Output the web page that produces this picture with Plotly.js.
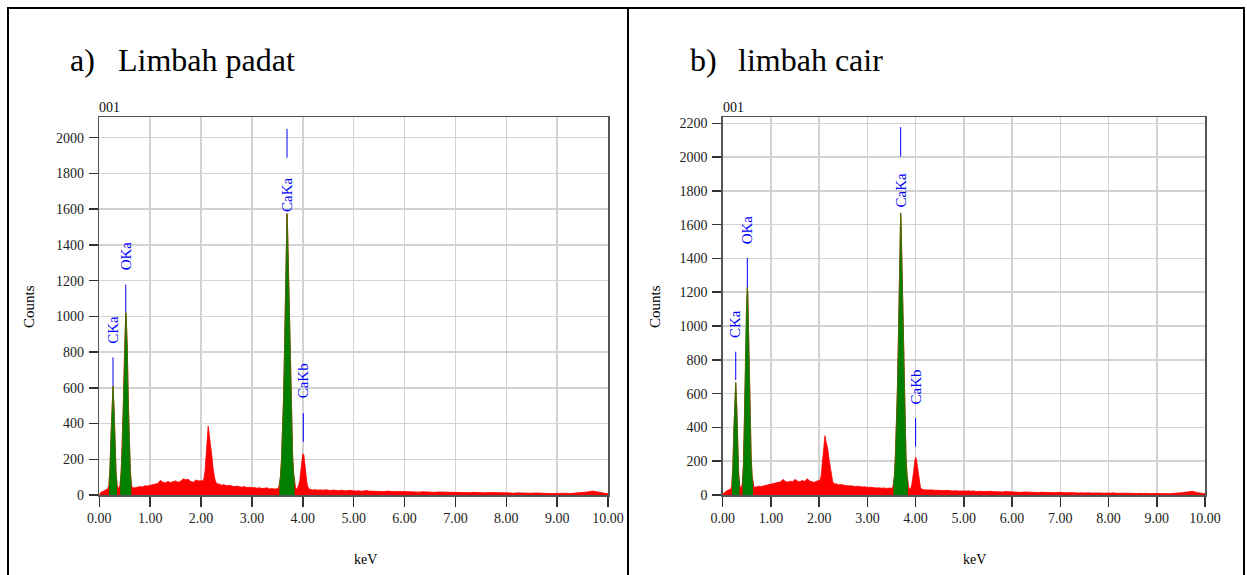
<!DOCTYPE html>
<html><head><meta charset="utf-8">
<script src="https://cdn.plot.ly/plotly-3.0.1.min.js"></script>
<style>html,body{margin:0;padding:0;background:#fff;}#chart{width:1247px;height:575px;}</style>
</head><body><div id="chart"></div>
<script>
const W = 1247, H = 575;
const SERIF = 'Liberation Serif, Times New Roman, Times, serif';

// channel step of the background spectra (keV)
const STEP = 0.05;

// a) Limbah padat — counts at 0.00, 0.05, ... 10.00 keV
const countsA = [
  6, 18, 24, 30, 34, 36, 38, 40, 42, 44,
  46, 44, 42, 38, 40, 44, 47, 45, 52, 50,
  55, 57, 61, 64, 82, 72, 68, 76, 70, 74,
  79, 71, 77, 90, 86, 88, 75, 72, 84, 79,
  82, 90, 200, 350, 250, 120, 70, 62, 55, 58,
  52, 54, 49, 47, 50, 46, 44, 47, 42, 44,
  40, 42, 38, 41, 36, 38, 40, 34, 36, 33,
  37, 100, 320, 1100, 1500, 640, 220, 65, 40, 120,
  230, 175, 70, 31, 28, 30, 27, 29, 26, 30,
  27, 25, 28, 26, 24, 27, 25, 23, 26, 24,
  25, 22, 24, 21, 23, 25, 22, 21, 23, 20,
  22, 21, 19, 22, 20, 21, 19, 20, 18, 20,
  19, 18, 20, 17, 19, 18, 16, 18, 17, 19,
  16, 17, 15, 17, 16, 15, 17, 14, 16, 15,
  15, 14, 16, 13, 15, 14, 13, 15, 14, 12,
  14, 13, 12, 14, 13, 12, 14, 11, 13, 12,
  13, 11, 12, 10, 12, 11, 10, 12, 10, 11,
  10, 11, 9, 11, 10, 9, 10, 9, 10, 8,
  9, 10, 8, 9, 10, 8, 9, 10, 9, 11,
  12, 14, 17, 20, 22, 19, 16, 12, 10, 9,
  8
];
// b) limbah cair
const countsB = [
  6, 20, 28, 33, 36, 38, 42, 43, 45, 47,
  50, 48, 46, 44, 48, 52, 50, 54, 56, 60,
  62, 66, 70, 74, 78, 92, 80, 76, 82, 78,
  93, 82, 78, 86, 80, 96, 84, 78, 75, 82,
  85, 140, 310, 310, 220, 130, 70, 66, 60, 62,
  58, 56, 54, 55, 52, 50, 52, 48, 47, 49,
  45, 46, 43, 44, 41, 43, 40, 42, 39, 41,
  40, 110, 390, 1200, 1590, 680, 230, 65, 42, 140,
  225, 160, 65, 33, 30, 31, 29, 30, 28, 29,
  28, 26, 27, 25, 27, 24, 26, 25, 23, 25,
  24, 23, 25, 22, 24, 21, 23, 22, 20, 22,
  21, 22, 20, 19, 21, 20, 18, 20, 19, 18,
  19, 17, 19, 18, 16, 18, 17, 16, 18, 16,
  17, 15, 16, 15, 17, 14, 16, 15, 14, 16,
  14, 15, 13, 14, 15, 13, 14, 12, 14, 13,
  12, 14, 13, 12, 13, 11, 13, 12, 11, 13,
  12, 11, 13, 10, 11, 12, 10, 11, 10, 12,
  10, 9, 11, 10, 9, 11, 10, 9, 10, 9,
  10, 9, 8, 10, 9, 8, 10, 9, 11, 12,
  13, 15, 18, 21, 19, 22, 17, 13, 11, 9,
  8
];

// fine-channel peak regions (keV) and counts
const cE   = [0.17, 0.19, 0.21, 0.23, 0.25, 0.27, 0.29, 0.31, 0.33, 0.35, 0.37];
const cA   = [36, 60, 150, 330, 530, 610, 480, 280, 120, 55, 40];
const cB   = [36, 62, 165, 370, 580, 665, 530, 300, 130, 60, 43];

const oE   = [0.39, 0.41, 0.43, 0.45, 0.47, 0.49, 0.51, 0.52, 0.53, 0.55, 0.57, 0.59, 0.61, 0.63, 0.65];
const oA   = [40, 62, 130, 260, 480, 740, 950, 1020, 990, 820, 520, 280, 130, 62, 40];
const oB   = [45, 80, 180, 450, 850, 1080, 1230, 1190, 1050, 750, 420, 220, 110, 62, 46];

const pE   = [2.00, 2.02, 2.04, 2.06, 2.08, 2.10, 2.12, 2.14, 2.16, 2.18, 2.20, 2.22, 2.24, 2.26, 2.28, 2.30, 2.32];
const pA   = [82, 80, 78, 95, 140, 220, 310, 385, 340, 300, 250, 200, 140, 100, 78, 70, 62];
const pB   = [85, 88, 110, 170, 240, 310, 351, 320, 300, 270, 220, 180, 150, 110, 80, 70, 66];

const caaE = [3.52, 3.54, 3.56, 3.58, 3.60, 3.62, 3.64, 3.66, 3.68, 3.69, 3.70, 3.72, 3.74, 3.76, 3.78, 3.80, 3.82, 3.84, 3.86];
const caaA = [37, 60, 100, 190, 320, 520, 800, 1100, 1480, 1575, 1500, 1260, 950, 640, 390, 220, 120, 65, 40];
const caaB = [40, 65, 110, 230, 390, 600, 880, 1200, 1570, 1668, 1590, 1330, 1000, 680, 410, 230, 125, 65, 40];

const cabE = [3.88, 3.90, 3.92, 3.94, 3.96, 3.98, 4.00, 4.02, 4.04, 4.06, 4.08, 4.10, 4.12, 4.14];
const cabA = [32, 40, 55, 80, 120, 180, 230, 225, 175, 110, 70, 45, 35, 31];
const cabB = [36, 42, 60, 90, 140, 195, 225, 205, 160, 105, 65, 45, 36, 33];

// green (identified) windows: C, O, CaKa
const greenLo = [0.19, 0.41, 3.54];
const greenHi = [0.35, 0.63, 3.84];

// peak labels
const labelText = ['CKa', 'OKa', 'CaKa', 'CaKb'];
const labelE_A  = [0.27, 0.52, 3.69, 4.01];
const labelY_A  = [925, 1340, 1680, 638];
const lineTopA  = [770, 1178, 2050, 458];
const lineBotA  = [610, 1020, 1888, 298];
const labelE_B  = [0.27, 0.51, 3.69, 4.00];
const labelY_B  = [1010, 1568, 1800, 640];
const lineTopB  = [848, 1403, 2177, 456];
const lineBotB  = [680, 1230, 2003, 286];

const xTickVals = [0, 1, 2, 3, 4, 5, 6, 7, 8, 9, 10];

function spectrum(bg, peaks) {
  const pts = [];
  bg.forEach((n, i) => {
    const e = +(i * STEP).toFixed(3);
    const inside = peaks.some(p => e >= p[0][0] - 1e-6 && e <= p[0][p[0].length - 1] + 1e-6);
    if (!inside) pts.push([e, n]);
  });
  peaks.forEach(p => p[0].forEach((e, i) => pts.push([e, p[1][i]])));
  pts.sort((a, b) => a[0] - b[0]);
  return { x: pts.map(p => p[0]), y: pts.map(p => p[1]) };
}
function win(E, N, lo, hi) {
  const x = [], y = [];
  E.forEach((e, i) => { if (e >= lo - 1e-6 && e <= hi + 1e-6) { x.push(e); y.push(N[i]); } });
  return { x, y };
}

function panelTraces(bg, c, o, p, caa, cab, lE, lTop, lBot, xa, ya) {
  const traces = [];
  const s = spectrum(bg, [[cE, c], [oE, o], [pE, p], [caaE, caa], [cabE, cab]]);
  traces.push({ x: s.x, y: s.y, type: 'scatter', mode: 'lines', fill: 'tozeroy',
    fillcolor: '#ff0000', line: { color: '#ff0000', width: 0.8 }, xaxis: xa, yaxis: ya, hoverinfo: 'skip' });
  const greens = [[cE, c], [oE, o], [caaE, caa]];
  greens.forEach((g, k) => {
    const w = win(g[0], g[1], greenLo[k], greenHi[k]);
    traces.push({ x: w.x, y: w.y, type: 'scatter', mode: 'lines', fill: 'tozeroy',
      fillcolor: '#008000', line: { color: '#3d7200', width: 0.9 }, xaxis: xa, yaxis: ya, hoverinfo: 'skip' });
  });
  const mx = [], my = [];
  lE.forEach((e, i) => { mx.push(e, e, null); my.push(lBot[i], lTop[i], null); });
  traces.push({ x: mx, y: my, type: 'scatter', mode: 'lines', line: { color: '#0000ff', width: 1 },
    xaxis: xa, yaxis: ya, hoverinfo: 'skip' });
  return traces;
}

const data = [].concat(
  panelTraces(countsA, cA, oA, pA, caaA, cabA, labelE_A, lineTopA, lineBotA, 'x', 'y'),
  panelTraces(countsB, cB, oB, pB, caaB, cabB, labelE_B, lineTopB, lineBotB, 'x2', 'y2')
);

const px = v => v / W;
const py = v => 1 - v / H;

const axBase = {
  showline: true, linecolor: '#555', linewidth: 1.5, mirror: true,
  showgrid: true, gridcolor: '#d2d2d2', gridwidth: 1.5, zeroline: false,
  ticks: 'outside', tickcolor: '#333', tickwidth: 1.5,
  tickfont: { family: SERIF, size: 14, color: '#222' }, fixedrange: true
};
const xAx = Object.assign({}, axBase, { range: [0, 10], tickvals: xTickVals, tickformat: '.2f', ticklen: 10 });
const yAx = Object.assign({}, axBase, { tick0: 0, dtick: 200, ticklen: 9, ticklabelstandoff: 2 });

const annotations = [];
function labelAnn(lE, lY, xr, yr) {
  lE.forEach((e, i) => annotations.push({
    x: e, y: lY[i], xref: xr, yref: yr, text: labelText[i], showarrow: false,
    textangle: -90, xanchor: 'center', yanchor: 'middle',
    font: { family: SERIF, size: 15, color: '#0000ff' }
  }));
}
labelAnn(labelE_A, labelY_A, 'x', 'y');
labelAnn(labelE_B, labelY_B, 'x2', 'y2');

function txt(x, y, text, size, opts) {
  annotations.push(Object.assign({ x: px(x), y: py(y), xref: 'paper', yref: 'paper', text: text,
    showarrow: false, xanchor: 'left', yanchor: 'middle',
    font: { family: SERIF, size: size, color: '#000' } }, opts || {}));
}
txt(68, 60, 'a)', 32);
txt(116, 60, 'Limbah padat', 32);
txt(688, 60, 'b)', 32);
txt(736, 60, 'limbah cair', 32);
txt(97, 108, '001', 14, { font: { family: SERIF, size: 14, color: '#111' } });
txt(721, 108, '001', 14, { font: { family: SERIF, size: 14, color: '#111' } });
txt(29, 307, 'Counts', 15, { xanchor: 'center', textangle: -90 });
txt(655, 307, 'Counts', 15, { xanchor: 'center', textangle: -90 });
txt(365, 559, 'keV', 14, { xanchor: 'center' });
txt(974, 559, 'keV', 14, { xanchor: 'center' });

const borderLine = { color: '#000', width: 2 };
const shapes = [
  { type: 'line', xref: 'paper', yref: 'paper', x0: px(7), x1: px(1244), y0: py(8), y1: py(8), line: borderLine },
  { type: 'line', xref: 'paper', yref: 'paper', x0: px(8), x1: px(8), y0: py(7), y1: py(580), line: borderLine },
  { type: 'line', xref: 'paper', yref: 'paper', x0: px(628), x1: px(628), y0: py(7), y1: py(580), line: borderLine },
  { type: 'line', xref: 'paper', yref: 'paper', x0: px(1244), x1: px(1244), y0: py(7), y1: py(580), line: borderLine }
];

const layout = {
  width: W, height: H, margin: { l: 0, r: 0, t: 0, b: 0 },
  font: { family: SERIF },
  paper_bgcolor: '#fff', plot_bgcolor: '#fff', showlegend: false, hovermode: false,
  xaxis: Object.assign({}, xAx, { domain: [px(99.3), px(608)], anchor: 'y' }),
  yaxis: Object.assign({}, yAx, { domain: [py(495), py(117)], range: [0, 2116], anchor: 'x' }),
  xaxis2: Object.assign({}, xAx, { domain: [px(722.7), px(1205)], anchor: 'y2' }),
  yaxis2: Object.assign({}, yAx, { domain: [py(495), py(117)], range: [0, 2237], anchor: 'x2' }),
  annotations: annotations, shapes: shapes
};

Plotly.newPlot('chart', data, layout, { staticPlot: true, displayModeBar: false });
</script>
</body></html>
